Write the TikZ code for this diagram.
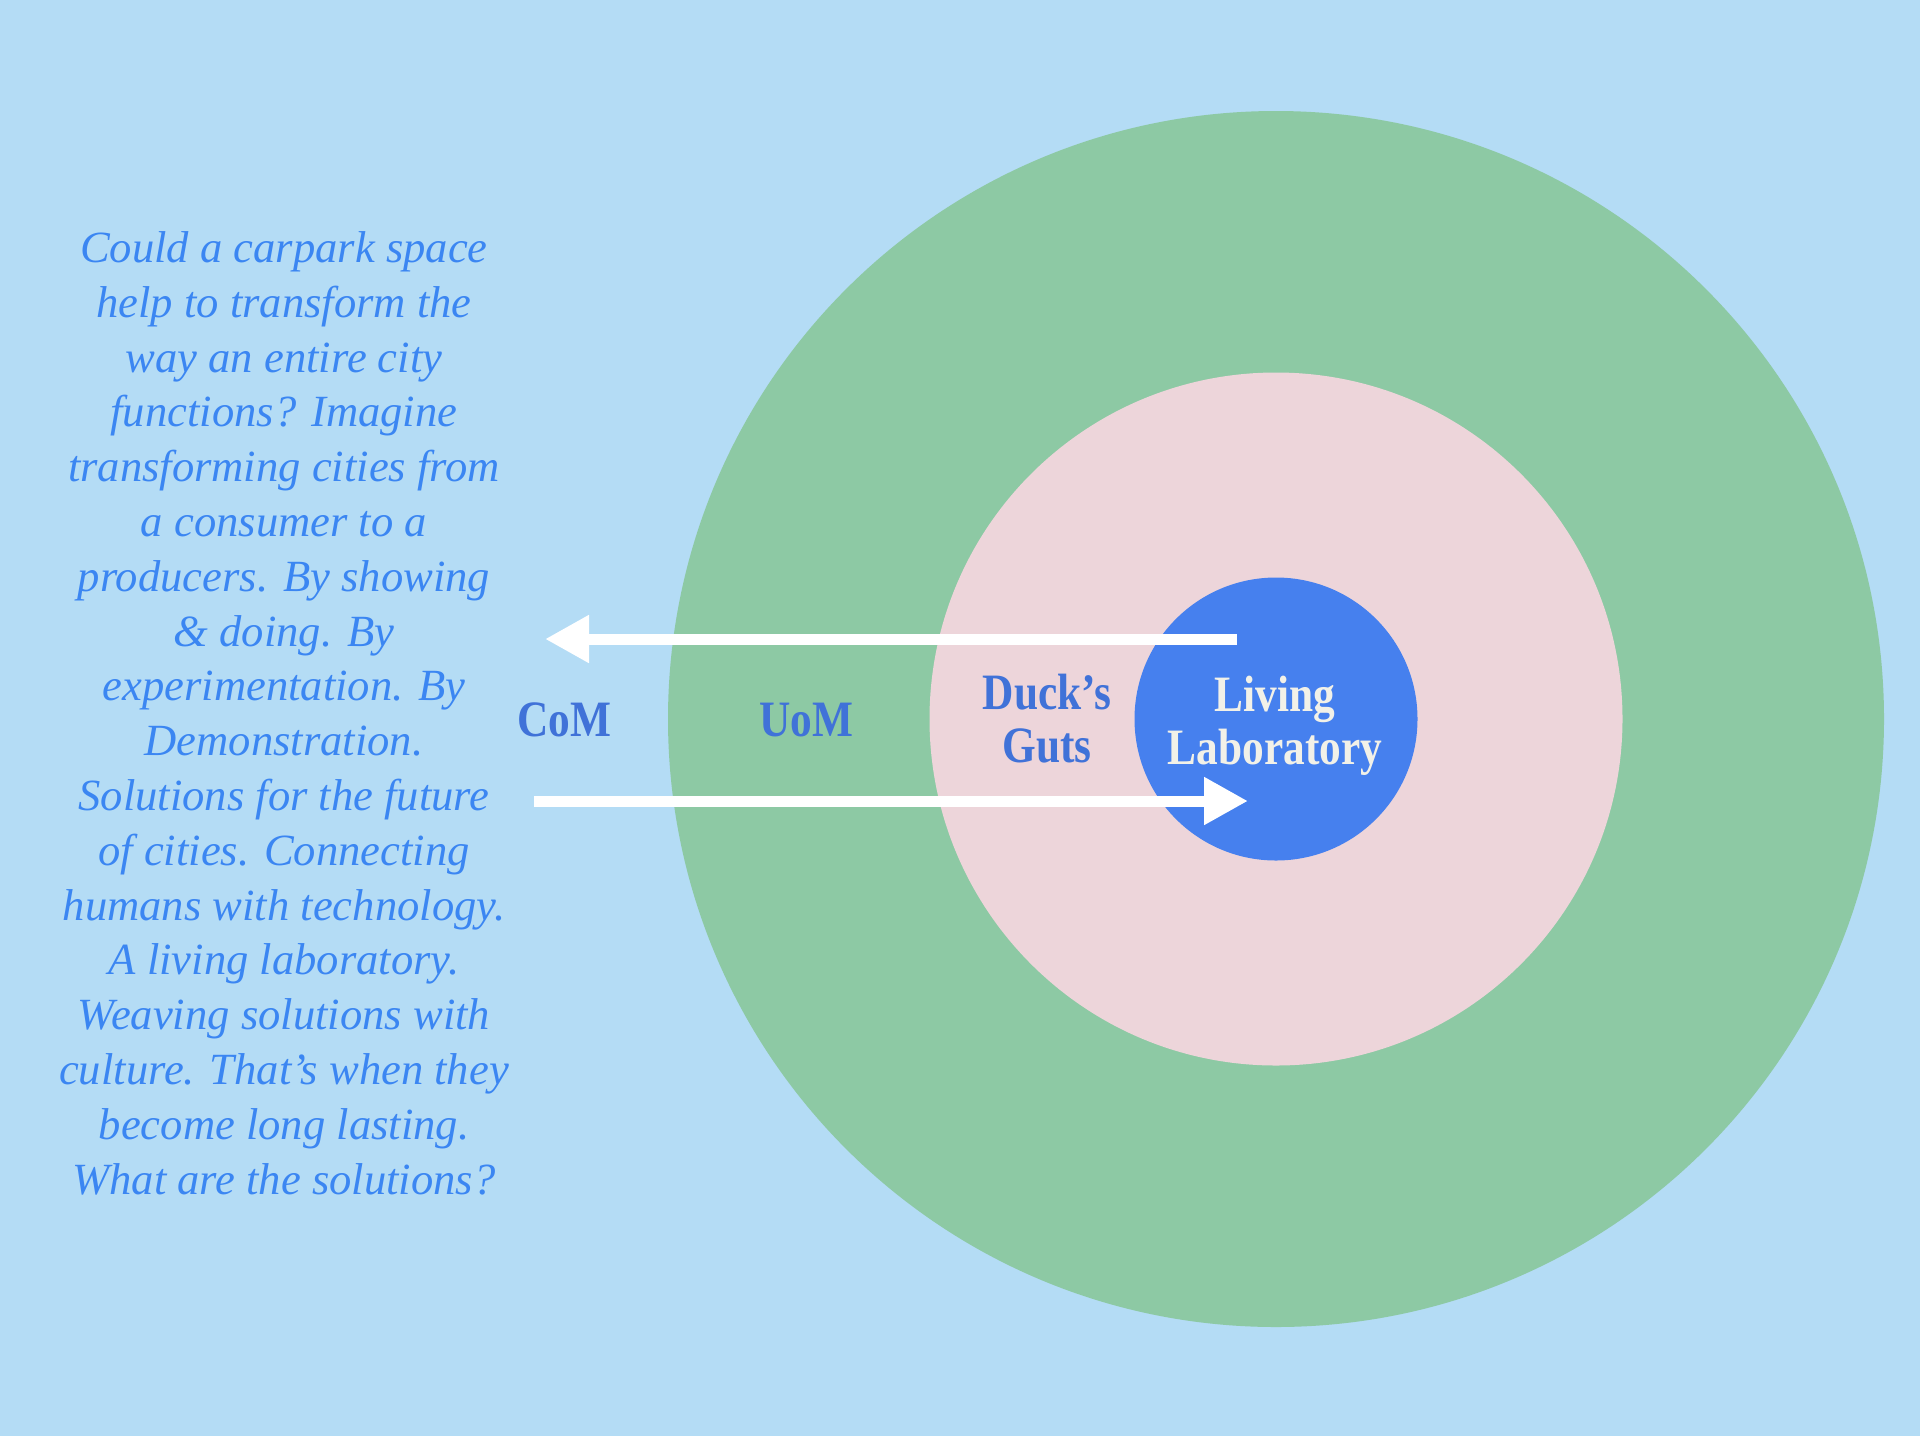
\documentclass[tikz,border=0pt]{standalone}
\usepackage{fontspec}
\usetikzlibrary{arrows.meta}
\newfontfamily\labfont[FakeStretch=0.85]{Liberation Serif}
\newfontfamily\parafont{Liberation Serif}
\definecolor{bgblue}{HTML}{B4DCF5}
\definecolor{ringgreen}{HTML}{8DC9A4}
\definecolor{ringpink}{HTML}{EDD5DA}
\definecolor{coreblue}{HTML}{4680EE}
\definecolor{paratext}{HTML}{3B86F2}
\definecolor{labtext}{HTML}{4072D8}
\definecolor{offwhite}{HTML}{F2F1E8}
\tikzset{
  ring/.style={circle, inner sep=0pt, draw=none},
  lab/.style={anchor=base, align=center, text=labtext, inner sep=0pt,
    font=\labfont\bfseries\fontsize{25.5pt}{26.5pt}\selectfont},
  para/.style={anchor=base, align=center, text=paratext, inner sep=0pt,
    font=\parafont\itshape\fontsize{22.3pt}{27.4pt}\selectfont},
  flow/.style={draw=white, line width=5.5pt,
    -{Triangle[length=22pt, width=22.5pt]}}
}
\begin{document}
\begin{tikzpicture}[x=0.5pt, y=-0.5pt]
\useasboundingbox (0,0) rectangle (1920,1436);
\fill[bgblue] (0,0) rectangle (1920,1436);
\node[ring, fill=ringgreen, minimum size=608pt] (outer) at (1276,719) {};
\node[ring, fill=ringpink, minimum size=346.5pt] (middle) at (1276,719) {};
\node[ring, fill=coreblue, minimum size=141.5pt] (core) at (1276,719) {};

\coordinate (topstart) at (1237,639);
\coordinate (topend) at (545,639);
\coordinate (botstart) at (534,801);
\coordinate (botend) at (1248,801);
\draw[flow] (topstart) -- (topend);
\draw[flow] (botstart) -- (botend);

\node[lab] (com) at (564,736) {CoM};
\node[lab] (uom) at (806,736) {UoM};
\node[lab] (duck) at (1047,762) {Duck’s\\Guts};
\node[lab, text=offwhite] (living) at (1275,764) {Living\\Laboratory};

\node[para] (text) at (284,1194) {Could a carpark space\\
help to transform the\\
way an entire city\\
functions? Imagine\\
transforming cities from\\
a consumer to a\\
producers. By showing\\
\& doing. By\\
experimentation. By\\
Demonstration.\\
Solutions for the future\\
of cities. Connecting\\
humans with technology.\\
A living laboratory.\\
Weaving solutions with\\
culture. That’s when they\\
become long lasting.\\
What are the solutions?};
\end{tikzpicture}
\end{document}
